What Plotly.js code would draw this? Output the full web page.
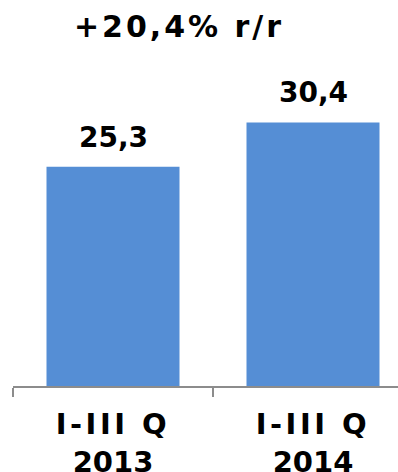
<!DOCTYPE html>
<html>
<head>
<meta charset="utf-8">
<script src="https://cdn.plot.ly/plotly-3.0.1.min.js"></script>
<style>
  html, body { margin: 0; padding: 0; background: #fff; overflow: hidden; }
  #chart { width: 398px; height: 472px; }
</style>
</head>
<body>
<div id="chart"></div>
<script>
// Period labels (two lines each), revenue values and their printed labels
const periods = ['I-III Q 2013', 'I-III Q 2014'];
const periodLines = [['I-III Q', '2013'], ['I-III Q', '2014']];
const values = [25.3, 30.4];
const valueLabels = ['25,3', '30,4'];
const headline = '+20,4% r/r';

const FONT = 'DejaVu Sans, Verdana, sans-serif';
const BLUE = '#558ed5';
const AXIS_GREY = '#8c8c8c';

const tickText = periodLines.map(l =>
  '<b><span style="letter-spacing:3.5px">' + l[0] + '</span><br>' + l[1] + '</b>');

const trace = {
  type: 'bar',
  x: periods,
  y: values,
  marker: { color: BLUE },
  hoverinfo: 'skip'
};

const annotations = periods.map((p, i) => ({
  x: p, y: values[i], xref: 'x', yref: 'y',
  text: '<b>' + valueLabels[i] + '</b>',
  showarrow: false,
  xanchor: 'center', yanchor: 'bottom',
  yshift: 11,
  font: { family: FONT, size: 28, color: '#000' }
}));

const layout = {
  width: 398,
  height: 472,
  margin: { l: 13, r: 0, t: 60, b: 86 },
  paper_bgcolor: '#fff',
  plot_bgcolor: '#fff',
  showlegend: false,
  bargap: 0.335,
  title: {
    text: '<span style="letter-spacing:3px"><b>' + headline + '</b></span>',
    font: { family: FONT, size: 30, color: '#000' },
    x: 179 / 398, xref: 'container', xanchor: 'center',
    y: 1 - 26 / 472, yref: 'container', yanchor: 'middle'
  },
  xaxis: {
    type: 'category',
    range: [-0.5, 1.425],
    tickmode: 'array',
    tickvals: periods,
    ticktext: tickText,
    tickson: 'boundaries',
    ticks: 'outside',
    ticklen: 9,
    tickwidth: 2,
    tickcolor: AXIS_GREY,
    ticklabelstandoff: 11,
    showline: true,
    linecolor: AXIS_GREY,
    linewidth: 2,
    showgrid: false,
    zeroline: false,
    tickfont: { family: FONT, size: 29, color: '#000' },
    fixedrange: true
  },
  yaxis: {
    range: [0, 37.6],
    visible: false,
    showgrid: false,
    zeroline: false,
    fixedrange: true
  },
  annotations: annotations
};

Plotly.newPlot('chart', [trace], layout, { displayModeBar: false, staticPlot: true });
</script>
</body>
</html>
